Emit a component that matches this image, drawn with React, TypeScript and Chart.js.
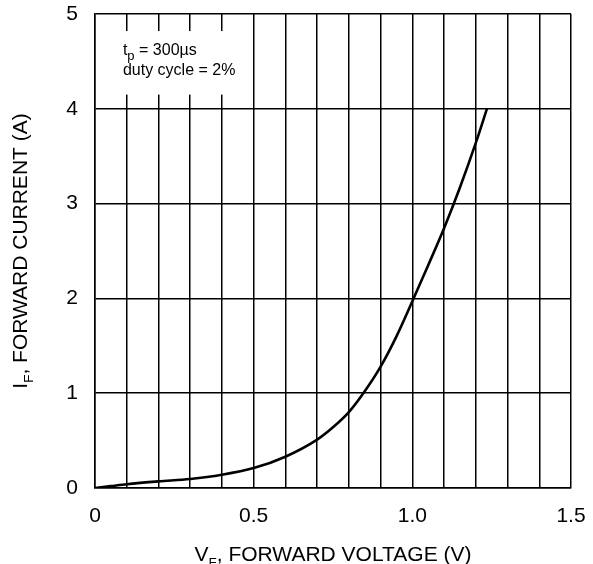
import { useEffect, useRef } from 'react';
import { Chart, registerables } from 'chart.js';

Chart.register(...registerables);

// Forward voltage (V) and forward current (A)
const forwardVoltage = [0, 0.05, 0.1, 0.2, 0.3, 0.4, 0.5, 0.6, 0.7, 0.75, 0.8, 0.85, 0.9, 0.95, 1.0, 1.05, 1.1, 1.15, 1.2, 1.235];
const forwardCurrent = [0, 0.02, 0.04, 0.07, 0.095, 0.14, 0.21, 0.33, 0.51, 0.64, 0.8, 1.02, 1.28, 1.6, 1.97, 2.35, 2.74, 3.17, 3.64, 4.0];

const xTickValues = [0, 0.5, 1.0, 1.5];
const xTickLabels = ['0', '0.5', '1.0', '1.5'];
const yTickValues = [0, 1, 2, 3, 4, 5];
const yTickLabels = ['0', '1', '2', '3', '4', '5'];

type Part = { text: string; sub?: boolean };
const xTitleParts: Part[] = [{ text: 'V' }, { text: 'F', sub: true }, { text: ', FORWARD VOLTAGE (V)' }];
const yTitleParts: Part[] = [{ text: 'I' }, { text: 'F', sub: true }, { text: ', FORWARD CURRENT (A)' }];
const noteLine1: Part[] = [{ text: 't' }, { text: 'p', sub: true }, { text: ' = 300µs' }];
const noteLine2: Part[] = [{ text: 'duty cycle = 2%' }];

const FONT = '"Liberation Sans", Arial, sans-serif';

function richWidth(ctx: CanvasRenderingContext2D, parts: Part[], size: number, subSize: number) {
  let w = 0;
  for (const p of parts) {
    ctx.font = `${p.sub ? subSize : size}px ${FONT}`;
    w += ctx.measureText(p.text).width;
  }
  return w;
}

function drawRich(ctx: CanvasRenderingContext2D, parts: Part[], x: number, y: number, size: number, subSize: number, subDy: number) {
  let cx = x;
  for (const p of parts) {
    ctx.font = `${p.sub ? subSize : size}px ${FONT}`;
    ctx.fillText(p.text, cx, y + (p.sub ? subDy : 0));
    cx += ctx.measureText(p.text).width;
  }
}

const overlayPlugin = {
  id: 'overlay',
  beforeDatasetsDraw(chart: any) {
    const { ctx, scales } = chart;
    const xs = scales.x;
    const ys = scales.y;
    ctx.save();
    ctx.fillStyle = '#ffffff';
    const x0 = xs.getPixelForValue(0) + 1;
    const x1 = xs.getPixelForValue(0.46);
    const y0 = ys.getPixelForValue(4.82);
    const y1 = ys.getPixelForValue(4.15);
    ctx.fillRect(x0, y0, x1 - x0, y1 - y0);
    ctx.fillStyle = '#000000';
    ctx.textBaseline = 'alphabetic';
    ctx.textAlign = 'left';
    const tx = xs.getPixelForValue(0.088);
    drawRich(ctx, noteLine1, tx, ys.getPixelForValue(4.57), 16, 13, 5);
    drawRich(ctx, noteLine2, tx, ys.getPixelForValue(4.36), 16, 13, 5);
    ctx.restore();
  },
  afterDraw(chart: any) {
    const { ctx, chartArea } = chart;
    ctx.save();
    ctx.fillStyle = '#000000';
    ctx.textBaseline = 'alphabetic';
    ctx.textAlign = 'left';
    const size = 21;
    const sub = 13.5;
    // x title
    const wx = richWidth(ctx, xTitleParts, size, sub);
    const cx = (chartArea.left + chartArea.right) / 2;
    drawRich(ctx, xTitleParts, cx - wx / 2, chart.height - 3, size, sub, 6);
    // y title
    const wy = richWidth(ctx, yTitleParts, size, sub);
    const cy = (chartArea.top + chartArea.bottom) / 2;
    ctx.translate(26.5, cy);
    ctx.rotate(-Math.PI / 2);
    drawRich(ctx, yTitleParts, -wy / 2, 0, size, sub, 6);
    ctx.restore();
  },
};

function labelFor(values: number[], labels: string[], v: number) {
  for (let i = 0; i < values.length; i++) {
    if (Math.abs(values[i] - v) < 1e-6) return labels[i];
  }
  return '';
}

export default function App() {
  const ref = useRef<HTMLCanvasElement | null>(null);

  useEffect(() => {
    if (!ref.current) return;
    const points = forwardVoltage.map((v, i) => ({ x: v, y: forwardCurrent[i] }));
    const chart = new Chart(ref.current, {
      type: 'line',
      data: {
        datasets: [
          {
            data: points,
            borderColor: '#000000',
            borderWidth: 2.6,
            pointRadius: 0,
            fill: false,
            cubicInterpolationMode: 'monotone',
          },
        ],
      },
      options: {
        animation: false,
        responsive: false,
        maintainAspectRatio: false,
        layout: { padding: { top: 14, right: 22, left: 0, bottom: 0 } },
        plugins: { legend: { display: false }, tooltip: { enabled: false }, title: { display: false } },
        scales: {
          x: {
            type: 'linear',
            min: 0,
            max: 1.5,
            afterFit(scale: any) {
              scale.height = 76;
              scale.paddingLeft = 0;
              scale.paddingRight = 0;
            },
            ticks: {
              stepSize: 0.1,
              autoSkip: false,
              maxRotation: 0,
              padding: 16,
              color: '#000000',
              font: { family: FONT, size: 21 },
              callback: (v: any) => labelFor(xTickValues, xTickLabels, Number(v)),
            },
            grid: { color: '#000000', lineWidth: 1.5, drawTicks: false },
            border: { color: '#000000', width: 1.5 },
          },
          y: {
            type: 'linear',
            min: 0,
            max: 5,
            afterFit(scale: any) {
              scale.width = 95;
              scale.paddingTop = 0;
              scale.paddingBottom = 0;
            },
            ticks: {
              stepSize: 1,
              padding: 17,
              color: '#000000',
              font: { family: FONT, size: 21 },
              callback: (v: any) => labelFor(yTickValues, yTickLabels, Number(v)),
            },
            grid: { color: '#000000', lineWidth: 1.5, drawTicks: false },
            border: { color: '#000000', width: 1.5 },
          },
        },
      },
      plugins: [overlayPlugin],
    } as any);
    return () => chart.destroy();
  }, []);

  return (
    <div style={{ position: 'fixed', left: 0, top: 0, width: 593, height: 564, background: '#ffffff' }}>
      <canvas ref={ref} width={593} height={564} style={{ width: 593, height: 564, display: 'block' }} />
    </div>
  );
}
